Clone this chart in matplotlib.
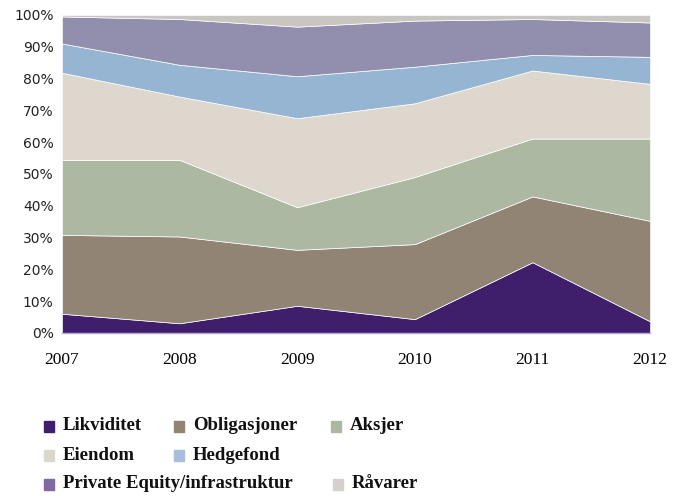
import matplotlib
matplotlib.use('Agg')
import matplotlib.pyplot as plt
from matplotlib.patches import Rectangle

years = ['2007', '2008', '2009', '2010', '2011', '2012']
names = ['Likviditet', 'Obligasjoner', 'Aksjer', 'Eiendom', 'Hedgefond',
         'Private Equity/infrastruktur', 'Råvarer']
# shares in % per year
likviditet = [6.0, 3.0, 8.5, 4.3, 22.2, 3.6]
obligasjoner = [24.8, 27.3, 17.6, 23.6, 20.7, 31.6]
aksjer = [23.6, 24.1, 13.4, 21.1, 18.2, 25.9]
eiendom = [27.4, 19.9, 28.0, 23.2, 21.4, 17.2]
hedgefond = [9.2, 10.0, 13.2, 11.5, 4.9, 8.5]
private_equity = [8.5, 14.4, 15.6, 14.5, 11.3, 10.8]
ravarer = [0.5, 1.3, 3.7, 1.8, 1.3, 2.4]

colors = ['#3f1f6b', '#928475', '#adb8a3', '#ddd7ce', '#96b5d3', '#928fae', '#c9c5c0']
legend_colors = ['#3f1f6b', '#928475', '#adb8a3', '#ddd7ce', '#a6bfdc', '#7f6a9f', '#d4d0cc']

series = [likviditet, obligasjoner, aksjer, eiendom, hedgefond, private_equity, ravarer]

fig = plt.figure(figsize=(6.73, 4.96), dpi=100)
ax = fig.add_axes([0.092, 0.329, 0.874, 0.641])

x = list(range(len(years)))
ax.stackplot(x, *series, colors=colors, edgecolor='white', linewidth=0.5)

ax.set_xlim(0, len(years) - 1)
ax.set_ylim(0, 100)
ax.set_yticks(range(0, 101, 10))
ax.set_yticklabels([f'{v}%' for v in range(0, 101, 10)], fontsize=10,
                   family='DejaVu Sans', color='#222222')
ax.set_xticks(x)
ax.set_xticklabels(years, fontsize=12.5, family='Liberation Serif')
ax.tick_params(length=0, pad=6)
ax.tick_params(axis='x', pad=14)
for s in ['top', 'right', 'left']:
    ax.spines[s].set_visible(False)
ax.spines['bottom'].set_color('#b9a8d0')
ax.spines['bottom'].set_linewidth(1)

# legend drawn by hand, three rows
W, H = 673, 496
items = [
    (0, 44, 426), (1, 174, 426), (2, 331, 426),
    (3, 44, 455), (4, 174, 455),
    (5, 44, 484), (6, 333, 484),
]
for i, px, py in items:
    fig.patches.append(Rectangle((px / W, 1 - (py + 6) / H), 10 / W, 11 / H,
                                 transform=fig.transFigure, color=legend_colors[i]))
    fig.text((px + 19) / W, 1 - py / H, names[i], fontsize=13.5, fontweight='bold',
             family='Liberation Serif', va='center', ha='left', color='#111111')

fig.savefig('out.png', dpi=100)
